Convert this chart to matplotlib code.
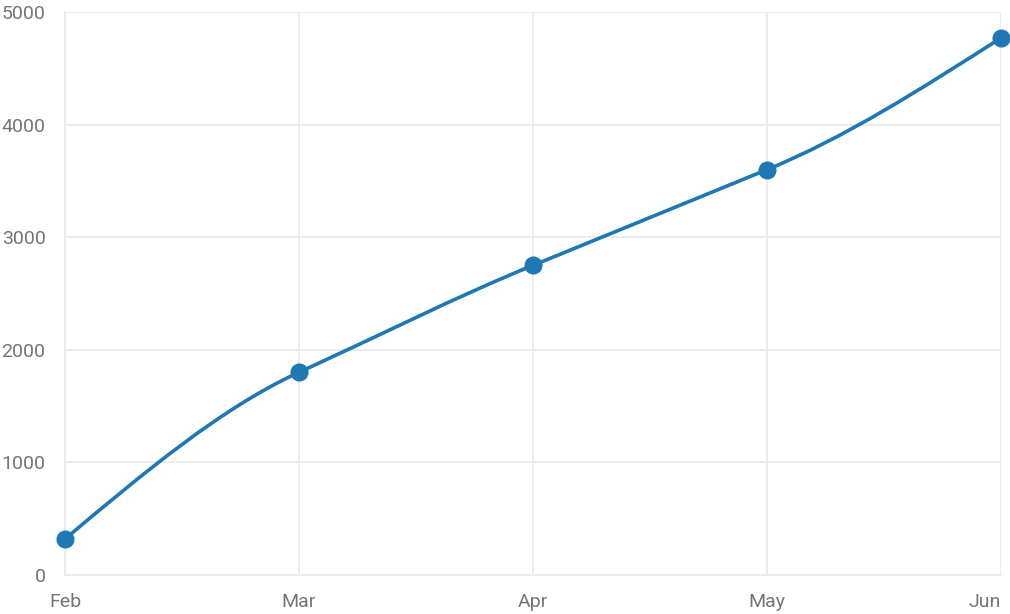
import matplotlib
matplotlib.use("Agg")
import matplotlib.pyplot as plt
from matplotlib.path import Path
from matplotlib.patches import PathPatch
import numpy as np

months = ["Feb", "Mar", "Apr", "May", "Jun"]
values = [320, 1800, 2750, 3600, 4770]
y_ticks = [0, 1000, 2000, 3000, 4000, 5000]

plt.rcParams['font.family'] = ['Roboto', 'DejaVu Sans']

fig = plt.figure(figsize=(10.10, 6.14), dpi=100)
W, H = 1010, 614
ax = fig.add_axes([65 / W, (H - 575) / H, (1001 - 65) / W, (575 - 12) / H])

x = np.arange(len(months), dtype=float)
y = np.array(values, dtype=float)
n = len(x)

# smooth line: minmod tangents at inner points, d3-style end tangents -> cubic bezier
delta = np.diff(y) / np.diff(x)
m = np.zeros(n)
for i in range(1, n - 1):
    a, b = delta[i - 1], delta[i]
    m[i] = 0.0 if a * b <= 0 else np.sign(a) * min(abs(a), abs(b))
m[0] = (3 * delta[0] - m[1]) / 2
m[-1] = (3 * delta[-1] - m[-2]) / 2

verts = [(x[0], y[0])]
codes = [Path.MOVETO]
for i in range(n - 1):
    h = (x[i + 1] - x[i]) / 3
    verts += [(x[i] + h, y[i] + m[i] * h), (x[i + 1] - h, y[i + 1] - m[i + 1] * h), (x[i + 1], y[i + 1])]
    codes += [Path.CURVE4] * 3
color = "#1f77b4"
ax.add_patch(PathPatch(Path(verts, codes), facecolor="none", edgecolor=color, lw=2.6, zorder=3,
                       capstyle="round", joinstyle="round"))
ax.plot(x, y, "o", color=color, markersize=12, zorder=4, clip_on=False)

ax.set_xlim(0, n - 1)
ax.set_ylim(0, 5000)
ax.set_xticks(x)
ax.set_xticklabels(months)
ax.set_yticks(y_ticks)
ax.get_xticklabels()[-1].set_horizontalalignment('right')

grid_c = "#ebebeb"
ax.grid(True, color=grid_c, lw=1.3, zorder=0)
for s in ax.spines.values():
    s.set_visible(False)
for side in ("left", "bottom"):
    ax.spines[side].set_visible(True)
    ax.spines[side].set_color(grid_c)
    ax.spines[side].set_linewidth(1.3)
ax.tick_params(axis='both', colors=grid_c, labelcolor="#757575", labelsize=14, length=0)
ax.tick_params(axis='y', pad=14)
ax.tick_params(axis='x', pad=13)

fig.savefig("out.png", dpi=100)
